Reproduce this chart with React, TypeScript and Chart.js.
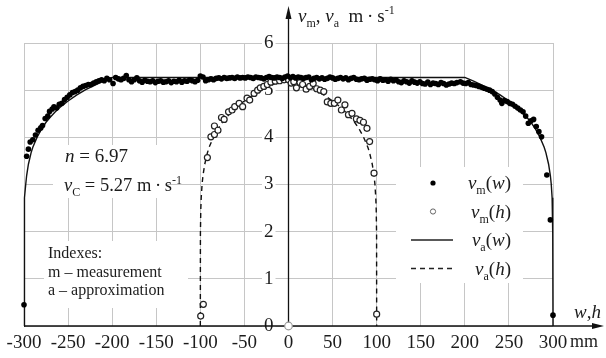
import { useEffect, useRef } from "react";
import { Chart, registerables } from "chart.js";

Chart.register(...registerables);

// ---------- data ----------
// measured v_m(w): filled dots
const measW_w = [
  -300, -297, -295, -293, -290, -287, -284, -281, -279, -276, -273, -271, -268, -266, -263, -260, -257, -254,
  -251, -248, -245, -242, -239, -236, -233, -230, -227, -224, -221, -218, -215, -212, -209, -206, -203, -199,
  -196, -193, -190, -187, -184, -181, -178, -175, -172, -169, -166, -163, -160, -157, -154, -151, -148, -145,
  -142, -139, -136, -133, -130, -127, -124, -121, -118, -115, -112, -109, -106, -103, -100, -97, -94, -91, -88,
  -85, -82, -79, -76, -73, -70, -67, -64, -61, -58, -55, -52, -49, -46, -43, -40, -37, -34, -31, -28, -25, -22,
  -19, -16, -13, -10, -7, -4, -1, 2, 5, 8, 11, 14, 17, 20, 23, 26, 29, 32, 35, 38, 41, 44, 47, 50, 53, 56, 59,
  62, 65, 68, 71, 74, 77, 80, 83, 86, 89, 92, 95, 98, 101, 104, 107, 110, 113, 116, 119, 122, 125, 128, 131,
  134, 137, 140, 143, 146, 149, 152, 155, 158, 161, 164, 167, 170, 173, 176, 179, 182, 185, 188, 191, 195, 198,
  201, 204, 207, 210, 213, 216, 219, 222, 225, 228, 231, 234, 237, 240, 242, 245, 248, 251, 254, 257, 260, 263,
  266, 269, 272, 275, 278, 281, 284, 287, 293, 297, 300,
];
const measW_v = [
  0.45, 3.6, 3.75, 3.9, 3.95, 4.05, 4.15, 4.2, 4.25, 4.4, 4.45, 4.55, 4.6, 4.65, 4.62, 4.7, 4.72, 4.8,
  4.85, 4.9, 4.95, 4.97, 5.0, 5.05, 5.08, 5.1, 5.12, 5.12, 5.15, 5.18, 5.2, 5.22, 5.2, 5.25, 5.22, 5.14,
  5.27, 5.24, 5.22, 5.25, 5.31, 5.22, 5.18, 5.22, 5.26, 5.2, 5.17, 5.21, 5.19, 5.18, 5.2, 5.16, 5.19, 5.2,
  5.17, 5.18, 5.2, 5.16, 5.19, 5.18, 5.21, 5.17, 5.2, 5.19, 5.22, 5.2, 5.18, 5.21, 5.3, 5.28, 5.2, 5.22, 5.24,
  5.22, 5.25, 5.26, 5.24, 5.27, 5.25, 5.26, 5.27, 5.25, 5.28, 5.26, 5.27, 5.26, 5.28, 5.27, 5.25, 5.28, 5.27, 5.26, 5.24, 5.27, 5.29,
  5.27, 5.26, 5.28, 5.27, 5.25, 5.28, 5.3, 5.27, 5.29, 5.26, 5.28, 5.27, 5.25, 5.27, 5.28, 5.22, 5.25, 5.27, 5.24, 5.26, 5.23, 5.25, 5.28, 5.26, 5.23, 5.25, 5.27,
  5.24, 5.26, 5.22, 5.25, 5.27, 5.23, 5.22, 5.24, 5.25, 5.21, 5.23, 5.24, 5.22, 5.2, 5.24, 5.21, 5.22, 5.19, 5.23, 5.2, 5.22, 5.18, 5.16, 5.2,
  5.18, 5.15, 5.2, 5.17, 5.15, 5.18, 5.14, 5.13, 5.17, 5.12, 5.15, 5.14, 5.12, 5.16, 5.14, 5.11, 5.13, 5.15, 5.14, 5.16, 5.18, 5.15,
  5.14, 5.16, 5.12, 5.11, 5.1, 5.08, 5.06, 5.04, 5.02, 5.0, 4.97, 4.92, 4.85, 4.79, 4.72, 4.78, 4.76, 4.72, 4.7, 4.66, 4.62, 4.58,
  4.54, 4.45, 4.3, 4.35, 4.38, 4.23, 4.12, 4.01, 3.2, 2.25, 0.23,
];

// measured v_m(h): open circles
const measH_h = [
  -99.6, -96.6, -92, -88, -84, -84, -80, -76, -73, -68, -64, -61, -56, -52, -47, -44, -39, -35, -32, -28, -24,
  -20, -15, -10, -5, 0, 3, 6, 9, 13, 16, 20, 24, 28, 32, 36, 40, 44, 48, 52, 56, 60, 64, 68, 72, 77, 81, 85, 89,
  92, 97, 100, 0,
];
const measH_v = [
  0.21, 0.46, 3.57, 4.01, 4.06, 4.24, 4.15, 4.42, 4.38, 4.54, 4.58, 4.65, 4.72, 4.65, 4.83, 4.79, 4.93, 5.0, 5.05, 5.08, 5.12,
  5.17, 5.19, 5.2, 5.22, 5.22, 5.15, 5.18, 5.05, 5.16, 5.12, 5.02, 5.08, 5.14, 5.03, 5.0, 4.97, 4.75, 4.72, 4.72, 4.79, 4.58, 4.69, 4.48, 4.51, 4.39, 4.36, 4.32, 4.19,
  3.91, 3.24, 0.25, 0,
];

// approximation v_a(w): solid line
const apprW_w = [
  -300, -299.9, -299.5, -299, -298, -297, -295, -292, -290, -285, -280, -275, -270, -265, -260, -255, -250,
  -240, -230, -220, -210, -200, 200, 210, 220, 230, 240, 250, 255, 260, 265, 270, 275, 280, 285, 290, 292,
  295, 297, 298, 299, 299.5, 299.9, 300,
];
const apprW_v = [
  0, 1.96, 2.46, 2.72, 3.01, 3.19, 3.43, 3.67, 3.79, 4.01, 4.18, 4.32, 4.43, 4.53, 4.62, 4.7, 4.77,
  4.9, 5.01, 5.1, 5.19, 5.27, 5.27, 5.19, 5.1, 5.01, 4.9, 4.77, 4.7, 4.62, 4.53, 4.43, 4.32, 4.18, 4.01, 3.79, 3.67,
  3.43, 3.19, 3.01, 2.72, 2.46, 1.96, 0,
];

// approximation v_a(h): dashed line
const apprH_h = [
  -100, -99.9, -99.5, -99, -98, -97, -95, -92, -90, -85, -80, -75, -70, -65, -60, -55, -50, -40, -30, -20, -10, 0,
  10, 20, 30, 40, 50, 55, 60, 65, 70, 75, 80, 85, 90, 92, 95, 97, 98, 99, 99.5, 99.9, 100,
];
const apprH_v = [
  0, 1.96, 2.46, 2.72, 3.01, 3.19, 3.43, 3.67, 3.79, 4.01, 4.18, 4.32, 4.43, 4.53, 4.62, 4.7, 4.77, 4.9, 5.01, 5.1, 5.19, 5.27,
  5.19, 5.1, 5.01, 4.9, 4.77, 4.7, 4.62, 4.53, 4.43, 4.32, 4.18, 4.01, 3.79, 3.67, 3.43, 3.19, 3.01, 2.72, 2.46, 1.96, 0,
];

const xMin = -300;
const xMax = 300;
const xStep = 50;
const yMin = 0;
const yMax = 6;
const yStep = 1;

const paramLines = ["n = 6.97", "v_C = 5.27 m\u2009·\u2009s^-1"];
const indexLines = ["Indexes:", "m – measurement", "a – approximation"];
const legendLabels = ["v_m(w)", "v_m(h)", "v_a(w)", "v_a(h)"];
const yTitle = "v_m, v_a  m\u2009·\u2009s^-1";
const xTitle = "w,h";
const xUnit = "mm";

// ---------- drawing helpers ----------
const SERIF = '"Liberation Serif", "Times New Roman", serif';
const INK = "#1c1c1c";

type Part = { t: string; it?: boolean; sub?: boolean; sup?: boolean };

function setFont(ctx: CanvasRenderingContext2D, p: Part, size: number) {
  const s = p.sub || p.sup ? Math.round(size * 0.63) : size;
  ctx.font = `${p.it ? "italic " : ""}${s}px ${SERIF}`;
}
function richWidth(ctx: CanvasRenderingContext2D, parts: Part[], size: number) {
  let w = 0;
  for (const p of parts) {
    setFont(ctx, p, size);
    w += ctx.measureText(p.t).width;
  }
  return w;
}
function drawRich(ctx: CanvasRenderingContext2D, parts: Part[], x: number, y: number, size: number) {
  let cx = x;
  ctx.textBaseline = "alphabetic";
  ctx.textAlign = "left";
  ctx.fillStyle = INK;
  for (const p of parts) {
    setFont(ctx, p, size);
    const dy = p.sub ? size * 0.27 : p.sup ? -size * 0.4 : 0;
    ctx.fillText(p.t, cx, y + dy);
    cx += ctx.measureText(p.t).width;
  }
}
// "v_m(w)" -> parts (v, w, h, n italic; subscript after _, superscript after ^)
function parse(label: string): Part[] {
  const parts: Part[] = [];
  let i = 0;
  while (i < label.length) {
    const c = label[i];
    if (c === "_" || c === "^") {
      let j = i + 1;
      while (j < label.length && /[A-Za-z0-9\-]/.test(label[j])) j++;
      const t = label.slice(i + 1, j);
      parts.push(c === "_" ? { t, sub: true } : { t, sup: true });
      i = j;
      continue;
    }
    parts.push({ t: c, it: c === "v" || c === "w" || c === "h" || c === "n" });
    i++;
  }
  const out: Part[] = [];
  for (const p of parts) {
    const last = out[out.length - 1];
    if (last && !!last.it === !!p.it && !!last.sub === !!p.sub && !!last.sup === !!p.sup) last.t += p.t;
    else out.push({ ...p });
  }
  return out;
}

const decorPlugin = {
  id: "decor",
  beforeDatasetsDraw(chart: any) {
    const ctx: CanvasRenderingContext2D = chart.ctx;
    const xs = chart.scales.x;
    const ys = chart.scales.y;
    const x0 = xs.getPixelForValue(0);
    const y0 = ys.getPixelForValue(0);
    ctx.save();

    // white boxes behind texts
    ctx.fillStyle = "#fff";
    ctx.fillRect(53, 145, 113, 53);
    ctx.fillRect(44, 241, 144, 67);
    ctx.fillRect(396, 167, 127, 116);

    // parameter texts
    drawRich(ctx, parse(paramLines[0]), 65, 162, 19);
    drawRich(ctx, parse(paramLines[1]), 64, 191, 18.5);

    // index texts
    ctx.font = `16px ${SERIF}`;
    ctx.fillStyle = INK;
    ctx.textAlign = "left";
    ctx.textBaseline = "alphabetic";
    indexLines.forEach((t, i) => ctx.fillText(t, 48, 258 + i * 18.5));

    // legend
    const rows = [183, 211.5, 240, 268.5];
    legendLabels.forEach((lab, i) => {
      const parts = parse(lab);
      const w = richWidth(ctx, parts, 19);
      drawRich(ctx, parts, 511 - w, rows[i] + 6, 19);
    });
    ctx.fillStyle = "#000";
    ctx.beginPath();
    ctx.arc(433, rows[0], 2.6, 0, Math.PI * 2);
    ctx.fill();
    ctx.strokeStyle = "#666";
    ctx.lineWidth = 1;
    ctx.fillStyle = "#fff";
    ctx.beginPath();
    ctx.arc(433, rows[1], 2.6, 0, Math.PI * 2);
    ctx.fill();
    ctx.stroke();
    ctx.strokeStyle = "#222";
    ctx.lineWidth = 1.5;
    ctx.beginPath();
    ctx.moveTo(411, rows[2]);
    ctx.lineTo(453, rows[2]);
    ctx.stroke();
    ctx.setLineDash([5, 4]);
    ctx.beginPath();
    ctx.moveTo(411, rows[3]);
    ctx.lineTo(453, rows[3]);
    ctx.stroke();
    ctx.setLineDash([]);

    // axes with arrows
    ctx.strokeStyle = "#111";
    ctx.fillStyle = "#111";
    ctx.lineWidth = 1.3;
    ctx.beginPath();
    ctx.moveTo(xs.left, y0);
    ctx.lineTo(596, y0);
    ctx.moveTo(x0, y0);
    ctx.lineTo(x0, 16);
    ctx.stroke();
    ctx.beginPath();
    ctx.moveTo(604, y0);
    ctx.lineTo(592, y0 - 3);
    ctx.lineTo(592, y0 + 3);
    ctx.closePath();
    ctx.fill();
    ctx.beginPath();
    ctx.moveTo(x0, 6);
    ctx.lineTo(x0 - 3, 19);
    ctx.lineTo(x0 + 3, 19);
    ctx.closePath();
    ctx.fill();

    // axis titles
    drawRich(ctx, parse(yTitle), 298, 22, 19);
    drawRich(ctx, parse(xTitle), 574, 318, 19);
    ctx.font = `18px ${SERIF}`;
    ctx.fillStyle = INK;
    ctx.fillText(xUnit, 570, 347);
    ctx.restore();
  },
};

const zip = (a: number[], b: number[]) => a.map((x, i) => ({ x, y: b[i] }));
const isOrigin = (c: any) => c.raw && c.raw.x === 0 && c.raw.y === 0;

export default function App() {
  const ref = useRef<HTMLCanvasElement | null>(null);
  useEffect(() => {
    document.body.style.margin = "0";
    if (!ref.current) return;
    const chart = new Chart(ref.current, {
      type: "scatter",
      data: {
        datasets: [
          {
            label: "v_m(w)",
            data: zip(measW_w, measW_v),
            pointRadius: 2.8,
            pointBackgroundColor: "#000",
            pointBorderWidth: 0,
            order: 0,
            clip: false,
          } as any,
          {
            label: "v_m(h)",
            data: zip(measH_h, measH_v),
            pointRadius: (c: any) => (isOrigin(c) ? 3.8 : 3),
            pointBackgroundColor: "#fff",
            pointBorderColor: (c: any) => (isOrigin(c) ? "#999" : "#222"),
            pointBorderWidth: 1.2,
            order: 1,
            clip: false,
          } as any,
          {
            label: "v_a(w)",
            data: zip(apprW_w, apprW_v),
            showLine: true,
            pointRadius: 0,
            borderColor: "#111",
            borderWidth: 1.4,
            tension: 0,
            order: 2,
            clip: false,
          } as any,
          {
            label: "v_a(h)",
            data: zip(apprH_h, apprH_v),
            showLine: true,
            pointRadius: 0,
            borderColor: "#111",
            borderWidth: 1.4,
            borderDash: [5, 4],
            tension: 0,
            order: 3,
            clip: false,
          } as any,
        ],
      },
      options: {
        responsive: false,
        animation: false,
        events: [],
        layout: { padding: { left: 24, right: 53, top: 43, bottom: 32 } },
        plugins: { legend: { display: false }, tooltip: { enabled: false } },
        scales: {
          x: {
            type: "linear",
            position: { y: 0 } as any,
            min: xMin,
            max: xMax,
            grid: { color: "#c6c6c6", lineWidth: 1, drawTicks: false },
            border: { display: false },
            ticks: {
              stepSize: xStep,
              autoSkip: false,
              maxRotation: 0,
              padding: 6,
              color: INK,
              font: { family: SERIF, size: 19 },
            },
          },
          y: {
            type: "linear",
            position: "center",
            min: yMin,
            max: yMax,
            grid: { color: "#c6c6c6", lineWidth: 1, drawTicks: false },
            border: { display: false },
            ticks: {
              stepSize: yStep,
              padding: 15,
              color: INK,
              font: { family: SERIF, size: 19 },
              showLabelBackdrop: true,
              backdropColor: "#fff",
              backdropPadding: { x: 2, y: 0 },
            } as any,
          },
        },
      },
      plugins: [decorPlugin],
    });
    return () => chart.destroy();
  }, []);
  return (
    <div style={{ width: 606, height: 358 }}>
      <canvas ref={ref} width={606} height={358} />
    </div>
  );
}
